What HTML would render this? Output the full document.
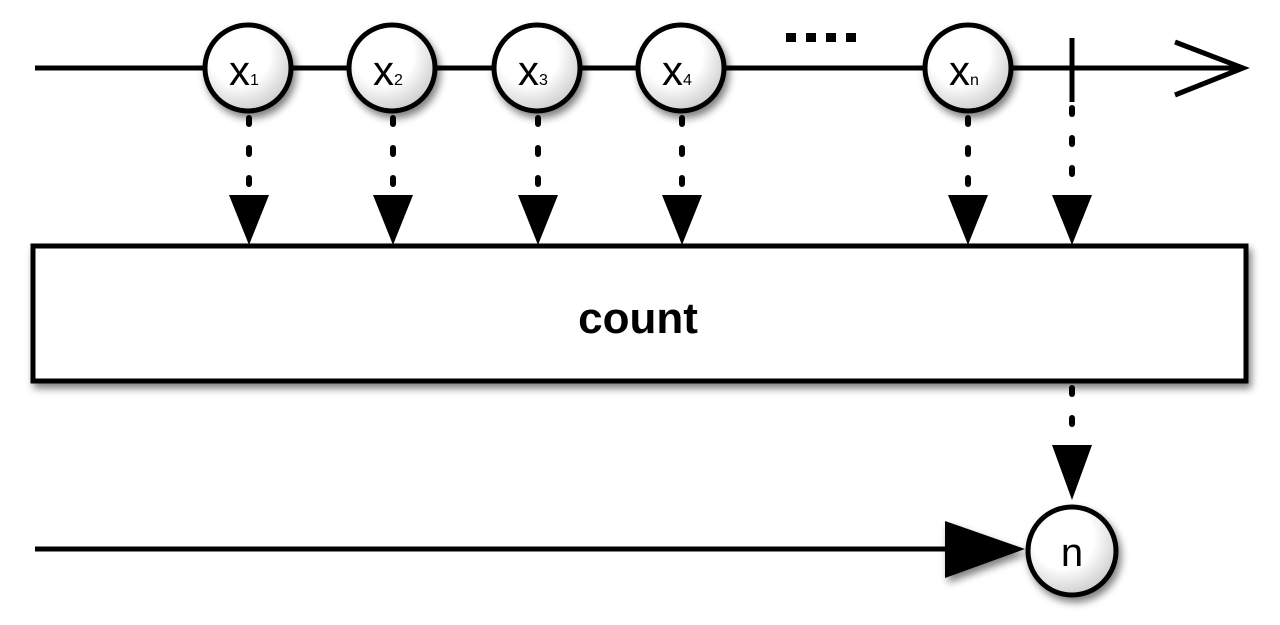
<!DOCTYPE html>
<html><head><style>body{margin:0;background:#fff}</style></head><body>
<svg width="1280" height="620" xmlns="http://www.w3.org/2000/svg" font-family="Liberation Sans, sans-serif">
<defs>
<radialGradient id="g" cx="0.4" cy="0.35" r="0.7"><stop offset="0.5" stop-color="#fff"/><stop offset="1" stop-color="#c8c8c8"/></radialGradient>
<filter id="s" x="-20%" y="-20%" width="150%" height="150%"><feGaussianBlur in="SourceAlpha" stdDeviation="4"/><feOffset dx="3" dy="5"/><feComponentTransfer><feFuncA type="linear" slope="0.5"/></feComponentTransfer><feMerge><feMergeNode/><feMergeNode in="SourceGraphic"/></feMerge></filter>
</defs>
<line x1="35" y1="68" x2="1240" y2="68" stroke="#000" stroke-width="5"/>
<polyline points="1175,42 1243,68 1175,95" fill="none" stroke="#000" stroke-width="5"/>
<line x1="1072" y1="38" x2="1072" y2="102" stroke="#000" stroke-width="5"/>
<g fill="#000"><rect x="786" y="33" width="10" height="9"/><rect x="806" y="33" width="10" height="9"/><rect x="826" y="33" width="10" height="9"/><rect x="846" y="33" width="10" height="9"/></g>
<g stroke="#000" stroke-width="6" stroke-dasharray="6 24" stroke-linecap="round">
<line x1="249" y1="118" x2="249" y2="195"/><line x1="393" y1="118" x2="393" y2="195"/><line x1="538" y1="118" x2="538" y2="195"/><line x1="682" y1="118" x2="682" y2="195"/><line x1="968" y1="118" x2="968" y2="195"/><line x1="1072" y1="108" x2="1072" y2="195"/>
<line x1="1072" y1="388" x2="1072" y2="445"/>
</g>
<g fill="#000">
<polygon points="229,195 269,195 249,245"/><polygon points="373,195 413,195 393,245"/><polygon points="518,195 558,195 538,245"/><polygon points="662,195 702,195 682,245"/><polygon points="948,195 988,195 968,245"/><polygon points="1052,195 1092,195 1072,245"/>
<polygon points="1052,445 1092,445 1072,500"/>
</g>
<rect x="33" y="246" width="1213" height="135" fill="#fff" stroke="#000" stroke-width="5" filter="url(#s)"/>
<text x="638" y="333" font-size="44" font-weight="bold" text-anchor="middle">count</text>
<g stroke="#000" stroke-width="5" fill="url(#g)" filter="url(#s)">
<circle cx="248" cy="68" r="43"/><circle cx="392" cy="68" r="43"/><circle cx="537" cy="68" r="43"/><circle cx="681" cy="68" r="43"/><circle cx="968" cy="68" r="43"/>
<circle cx="1072" cy="551" r="44"/>
</g>
<g font-size="42" text-anchor="middle">
<text x="244" y="85">x<tspan font-size="16">1</tspan></text>
<text x="388" y="85">x<tspan font-size="16">2</tspan></text>
<text x="533" y="85">x<tspan font-size="16">3</tspan></text>
<text x="677" y="85">x<tspan font-size="16">4</tspan></text>
<text x="964" y="85">x<tspan font-size="16">n</tspan></text>
<text x="1072" y="566" font-size="40">n</text>
</g>
<line x1="35" y1="549" x2="950" y2="549" stroke="#000" stroke-width="5"/>
<polygon points="945,521 1025,549 945,578" fill="#000" filter="url(#s)"/>
</svg>
</body></html>
